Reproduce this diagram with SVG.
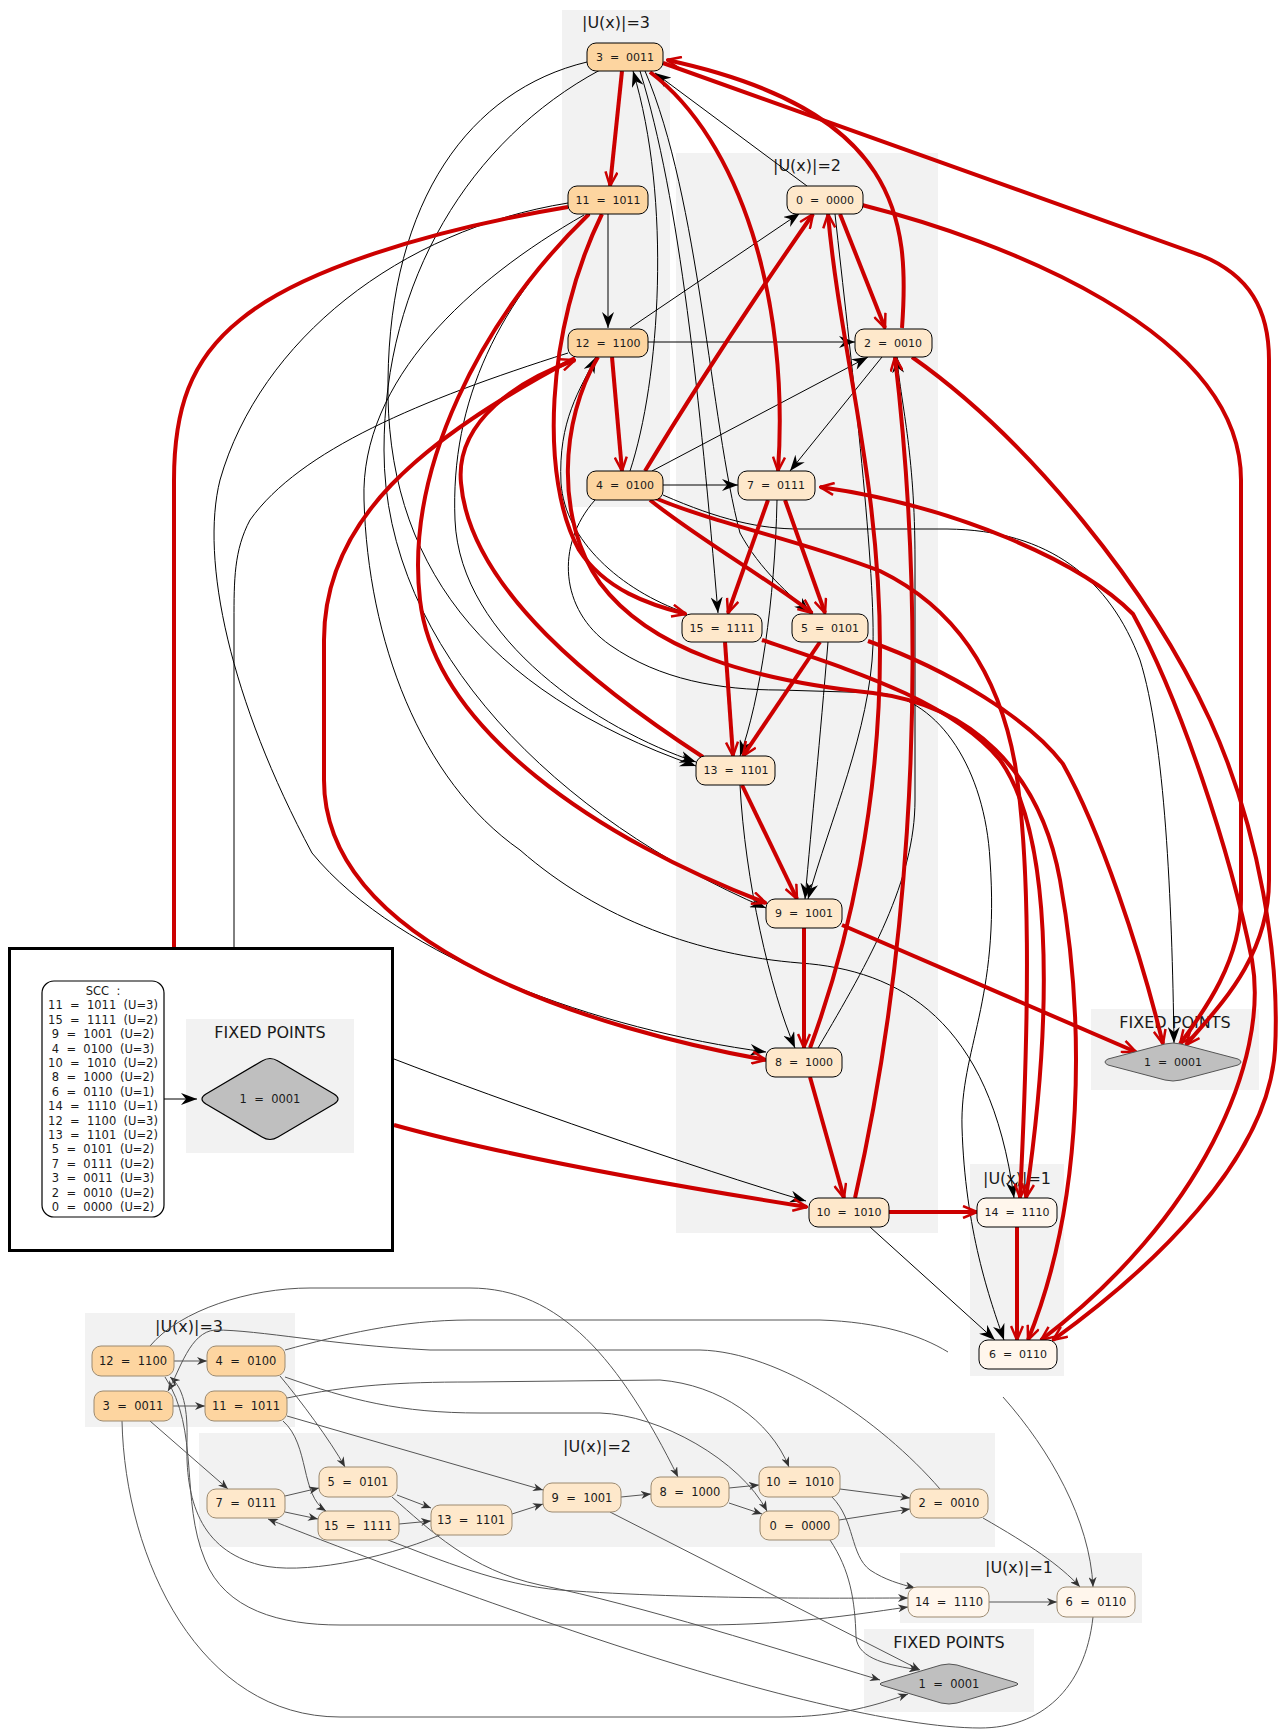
<svg xmlns="http://www.w3.org/2000/svg" width="1283" height="1730" viewBox="0 0 1283 1730">
<style>
text{font-family:"DejaVu Sans","Liberation Sans",sans-serif;fill:#1a1a1a;white-space:pre}
.cl{fill:#f2f2f2}
.cll{font-size:16px;text-anchor:middle}
.tn{font-size:11px;text-anchor:middle}
.bn{font-size:11.5px;text-anchor:middle}
.u3{fill:#fdd5a0;stroke:#000;stroke-width:1}
.u2{fill:#fee8cb;stroke:#000;stroke-width:1}
.u1{fill:#fff6ec;stroke:#000;stroke-width:1}
.b3{fill:#fdd5a0;stroke:#9c8a70;stroke-width:1}
.b2{fill:#fee8cb;stroke:#9c8a70;stroke-width:1}
.b1{fill:#fff6ec;stroke:#9c8a70;stroke-width:1}
.fp{fill:#bfbfbf;stroke:#555;stroke-width:1}
.eb{fill:none;stroke:#000;stroke-width:1;marker-end:url(#ab)}
.en{fill:none;stroke:#000;stroke-width:1}
.er{fill:none;stroke:#cc0000;stroke-width:4;marker-end:url(#ar)}
.eg{fill:none;stroke:#555;stroke-width:1;marker-end:url(#ag)}
.egn{fill:none;stroke:#555;stroke-width:1}
</style>
<defs>
<marker id="ab" viewBox="0 0 16 12" refX="16" refY="6" markerWidth="16" markerHeight="12" markerUnits="userSpaceOnUse" orient="auto"><path d="M0,0 L16,6 L0,12 L5,6 Z" fill="#000"/></marker>
<marker id="ar" viewBox="0 0 16 14" refX="15" refY="7" markerWidth="16" markerHeight="14" markerUnits="userSpaceOnUse" orient="auto"><path d="M1,1 L15,7 L1,13" fill="none" stroke="#cc0000" stroke-width="2.5"/></marker>
<marker id="ars" viewBox="0 0 16 14" refX="15" refY="7" markerWidth="16" markerHeight="14" markerUnits="userSpaceOnUse" orient="auto-start-reverse"><path d="M1,1 L15,7 L1,13" fill="none" stroke="#cc0000" stroke-width="2.5"/></marker>
<marker id="ag" viewBox="0 0 10 8" refX="10" refY="4" markerWidth="10" markerHeight="8" markerUnits="userSpaceOnUse" orient="auto"><path d="M0,0 L10,4 L0,8 L3,4 Z" fill="#333"/></marker>
</defs>
<rect width="1283" height="1730" fill="#fff"/>

<!-- bottom graph clusters -->
<g id="bottom-clusters">
<rect class="cl" x="85" y="1313" width="210" height="114"/>
<text class="cll" x="189" y="1332">|U(x)|=3</text>
<rect class="cl" x="199" y="1433" width="796" height="114"/>
<text class="cll" x="597" y="1452">|U(x)|=2</text>
<rect class="cl" x="900" y="1553" width="242" height="70"/>
<text class="cll" x="1019" y="1573">|U(x)|=1</text>
<rect class="cl" x="864" y="1629" width="170" height="83"/>
<text class="cll" x="949" y="1648">FIXED POINTS</text>
</g>

<g id="bottom-edges">
<path class="eg" d="M174,1361 L207,1361"/>
<path class="eg" d="M173,1406 L205,1406"/>
<path class="eg" d="M150,1421 L228,1489"/>
<path class="eg" d="M280,1376 C300,1400 330,1440 345,1467"/>
<path class="eg" d="M283,1421 C310,1445 300,1495 326,1511"/>
<path class="eg" d="M287,1416 L543,1490"/>
<path class="eg" d="M285,1496 L319,1488"/>
<path class="eg" d="M285,1512 L318,1519"/>
<path class="eg" d="M397,1495 L431,1508"/>
<path class="eg" d="M399,1524 L431,1521"/>
<path class="eg" d="M512,1514 L543,1504"/>
<path class="eg" d="M621,1497 L651,1494"/>
<path class="eg" d="M729,1488 L759,1485"/>
<path class="eg" d="M729,1503 L762,1514"/>
<path class="eg" d="M840,1489 L910,1498"/>
<path class="eg" d="M839,1520 L910,1509"/>
<path class="eg" d="M832,1497 C855,1520 850,1555 870,1570 C885,1580 900,1584 915,1588"/>
<path class="eg" d="M983,1518 C1030,1545 1060,1565 1080,1587"/>
<path class="eg" d="M989,1602 L1057,1602"/>
<path class="eg" d="M610,1512 L920,1670"/>
<path class="eg" d="M830,1540 C850,1570 855,1600 856,1637 C858,1660 890,1665 919,1670"/>
<path class="eg" d="M1093,1617 C1085,1690 1040,1728 980,1728 C900,1728 750,1690 600,1640 C450,1590 320,1540 268,1519"/>
<path class="eg" d="M122,1421 C125,1560 200,1717 340,1717 L780,1717 C840,1717 880,1704 908,1694"/>
<path class="eg" d="M440,1535 C380,1560 300,1575 260,1565 C200,1550 185,1500 187,1440 C188,1400 180,1385 170,1377"/>
<path class="eg" d="M940,1489 C880,1420 780,1352 700,1350 L430,1350 C330,1345 260,1330 215,1330 C190,1332 180,1370 168,1391"/>
<path class="eg" d="M150,1346 C180,1310 250,1288 310,1288 L470,1288 C560,1288 620,1360 678,1477"/>
<path class="egn" d="M285,1350 C340,1335 400,1320 470,1320 L820,1320 C880,1322 920,1335 948,1352"/>
<path class="eg" d="M1003,1397 C1050,1450 1090,1520 1093,1587"/>
<path class="eg" d="M287,1398 C350,1385 400,1382 470,1382 L660,1380 C720,1385 770,1420 789,1467"/>
<path class="eg" d="M285,1377 C350,1400 400,1413 480,1413 L600,1413 C660,1415 740,1460 767,1511"/>
<path class="eg" d="M392,1497 C430,1530 470,1570 540,1585 C640,1605 780,1650 880,1680"/>
<path class="eg" d="M388,1540 C440,1560 500,1585 560,1590 C700,1600 850,1598 908,1598"/>
<path class="eg" d="M165,1377 C200,1430 180,1500 205,1560 C225,1610 280,1625 340,1625 L700,1625 C800,1625 870,1612 908,1607"/>
</g>

<g id="b-n12"><rect class="b3" x="92" y="1346" width="82" height="30" rx="9"/><text class="bn" x="133" y="1365">12  =  1100</text></g>
<g id="b-n4"><rect class="b3" x="207" y="1346" width="78" height="30" rx="9"/><text class="bn" x="246" y="1365">4  =  0100</text></g>
<g id="b-n3"><rect class="b3" x="94" y="1391" width="79" height="30" rx="9"/><text class="bn" x="133" y="1410">3  =  0011</text></g>
<g id="b-n11"><rect class="b3" x="205" y="1391" width="82" height="30" rx="9"/><text class="bn" x="246" y="1410">11  =  1011</text></g>
<g id="b-n7"><rect class="b2" x="207" y="1489" width="78" height="29" rx="9"/><text class="bn" x="246" y="1507">7  =  0111</text></g>
<g id="b-n5"><rect class="b2" x="319" y="1467" width="78" height="30" rx="9"/><text class="bn" x="358" y="1486">5  =  0101</text></g>
<g id="b-n15"><rect class="b2" x="318" y="1511" width="81" height="29" rx="9"/><text class="bn" x="358" y="1530">15  =  1111</text></g>
<g id="b-n13"><rect class="b2" x="431" y="1505" width="81" height="30" rx="9"/><text class="bn" x="471" y="1524">13  =  1101</text></g>
<g id="b-n9"><rect class="b2" x="543" y="1483" width="78" height="29" rx="9"/><text class="bn" x="582" y="1502">9  =  1001</text></g>
<g id="b-n8"><rect class="b2" x="651" y="1477" width="78" height="30" rx="9"/><text class="bn" x="690" y="1496">8  =  1000</text></g>
<g id="b-n10"><rect class="b2" x="759" y="1467" width="81" height="30" rx="9"/><text class="bn" x="800" y="1486">10  =  1010</text></g>
<g id="b-n0"><rect class="b2" x="760" y="1511" width="79" height="29" rx="9"/><text class="bn" x="800" y="1530">0  =  0000</text></g>
<g id="b-n2"><rect class="b2" x="910" y="1489" width="78" height="29" rx="9"/><text class="bn" x="949" y="1507">2  =  0010</text></g>
<g id="b-n14"><rect class="b1" x="908" y="1587" width="81" height="30" rx="9"/><text class="bn" x="949" y="1606">14  =  1110</text></g>
<g id="b-n6"><rect class="b1" x="1057" y="1587" width="78" height="30" rx="9"/><text class="bn" x="1096" y="1606">6  =  0110</text></g>
<g id="b-n1"><path class="fp" d="M884,1682 L941,1665 Q949,1663 957,1665 L1014,1682 Q1022,1684 1014,1686 L957,1703 Q949,1705 941,1703 L884,1686 Q876,1684 884,1682 Z"/><text class="bn" x="949" y="1688">1  =  0001</text></g>

<!-- top graph clusters -->
<g id="top-clusters">
<rect class="cl" x="562" y="10" width="108" height="497"/>
<text class="cll" x="616" y="28">|U(x)|=3</text>
<rect class="cl" x="676" y="153" width="262" height="1080"/>
<text class="cll" x="807" y="171">|U(x)|=2</text>
<rect class="cl" x="1091" y="1009" width="168" height="81"/>
<text class="cll" x="1175" y="1028">FIXED POINTS</text>
<rect class="cl" x="970" y="1164" width="94" height="212"/>
<text class="cll" x="1017" y="1184">|U(x)|=1</text>
</g>

<g id="top-edges">
<!-- black -->
<path class="eb" d="M608,214 L608,328"/>
<path class="eb" d="M648,342 L855,342"/>
<path class="eb" d="M630,328 L800,213"/>
<path class="eb" d="M807,186 L655,73"/>
<path class="eb" d="M663,485 L738,485"/>
<path class="eb" d="M652,471 L868,357"/>
<path class="eb" d="M882,357 L790,471"/>
<path class="eb" d="M630,471 C660,380 672,200 633,71"/>
<path class="eb" d="M640,71 C680,200 700,400 718,613"/>
<path class="eb" d="M645,71 C700,200 710,420 740,533 C760,570 790,595 810,613"/>
<path class="eb" d="M777,500 C775,600 760,700 740,756"/>
<path class="eb" d="M587,62 C470,90 390,200 388,380 C385,560 480,690 696,766"/>
<path class="eb" d="M590,214 C500,300 450,400 455,520 C460,640 600,730 696,762"/>
<path class="eb" d="M568,203 C400,230 260,340 220,480 C200,560 230,700 312,853 C400,960 600,1030 766,1052"/>
<path class="en" d="M568,353 C420,400 300,450 250,520 C234,550 234,580 234,620 L234,947"/>
<path class="eb" d="M686,613 C620,590 565,540 561,483 C558,420 580,390 596,357"/>
<path class="eb" d="M600,70 C470,140 384,280 384,450 C384,650 560,820 766,908"/>
<path class="eb" d="M740,785 C745,880 770,990 795,1048"/>
<path class="eb" d="M818,1048 C870,960 915,880 915,800 L915,560 C915,450 900,400 897,357"/>
<path class="eb" d="M835,214 C850,350 875,560 873,645 C870,730 830,820 808,899"/>
<path class="eb" d="M828,642 C820,740 812,820 805,899"/>
<path class="eb" d="M584,215 C470,280 360,380 364,500 C368,640 420,780 520,850 C600,920 700,955 800,963 C900,970 990,1020 1014,1198"/>
<path class="eb" d="M663,495 C720,520 760,529 800,529 L947,529 C1050,530 1110,580 1140,660 C1165,740 1172,900 1174,1043"/>
<path class="eb" d="M595,500 C555,545 560,610 610,645 C660,680 720,690 780,690 L880,693 C940,700 985,770 990,860 C1000,1000 960,1050 962,1127 C965,1230 990,1300 1004,1340"/>
<path class="eb" d="M870,1227 L995,1340"/>
<path class="eb" d="M394,1059 C500,1100 700,1170 806,1201"/>
<!-- red -->
<path class="er" d="M622,71 L610,186"/>
<path class="er" d="M663,63 L1200,255 C1250,275 1269,310 1269,360 L1269,880 C1269,960 1215,1010 1186,1045"/>
<path class="er" d="M902,328 C910,220 900,110 667,60"/>
<path class="er" d="M650,72 C740,140 790,300 778,471"/>
<path class="er" d="M645,471 C700,380 760,290 813,214"/>
<path class="er" d="M840,214 L885,328"/>
<path class="er" d="M810,1048 C850,940 880,800 880,650 C880,480 840,350 828,214"/>
<path class="er" d="M855,1198 C900,1000 935,700 895,357"/>
<path class="er" d="M912,357 C1030,440 1150,590 1210,720 C1260,830 1280,960 1275,1050 C1268,1160 1150,1270 1053,1340"/>
<path class="er" style="marker-start:url(#ars)" d="M820,487 C950,505 1080,560 1133,614 C1180,700 1230,850 1252,960 C1270,1060 1200,1220 1041,1340"/>
<path class="er" d="M862,205 C1000,240 1241,330 1241,480 L1241,900 C1241,960 1205,1010 1180,1044"/>
<path class="er" d="M842,925 L1136,1052"/>
<path class="er" d="M768,500 L728,613"/>
<path class="er" d="M785,500 L825,613"/>
<path class="er" d="M650,500 C700,540 770,580 812,613"/>
<path class="er" d="M725,642 L733,756"/>
<path class="er" d="M820,642 L743,756"/>
<path class="er" d="M742,785 L797,899"/>
<path class="er" d="M804,928 L804,1048"/>
<path class="er" d="M810,1077 L844,1198"/>
<path class="er" d="M888,1212 L977,1212"/>
<path class="er" d="M1017,1227 L1017,1340"/>
<path class="er" d="M612,357 L622,471"/>
<path class="er" d="M602,214 C545,330 540,480 579,550 C605,590 650,605 686,614"/>
<path class="er" d="M589,214 C480,320 405,470 420,600 C435,730 600,840 766,903"/>
<path class="er" style="marker-end:none" d="M568,207 C430,230 300,270 240,320 C190,360 174,410 174,480 L174,947"/>
<path class="er" d="M575,358 C420,440 324,520 324,640 L324,780 C324,950 600,1030 766,1060"/>
<path class="er" d="M703,757 C600,690 470,590 461,483 C455,420 520,380 575,360"/>
<path class="er" d="M598,357 C560,420 555,520 600,583 C650,650 750,680 873,693 C970,705 1040,770 1060,880 C1085,1020 1085,1200 1028,1340"/>
<path class="er" d="M655,498 C720,525 800,540 880,571 C960,610 1000,680 1015,764 C1030,860 1030,1000 1020,1198"/>
<path class="er" d="M762,640 C850,670 950,700 1000,760 C1050,830 1055,1000 1026,1198"/>
<path class="er" d="M868,641 C950,670 1030,720 1063,764 C1100,830 1140,950 1163,1044"/>
<path class="er" d="M394,1125 C520,1160 700,1190 807,1207"/>
</g>

<g id="t-n3"><rect class="u3" x="587" y="43" width="76" height="28" rx="9"/><text class="tn" x="625" y="61">3  =  0011</text></g>
<g id="t-n11"><rect class="u3" x="568" y="186" width="80" height="28" rx="9"/><text class="tn" x="608" y="204">11  =  1011</text></g>
<g id="t-n12"><rect class="u3" x="568" y="329" width="80" height="28" rx="9"/><text class="tn" x="608" y="347">12  =  1100</text></g>
<g id="t-n4"><rect class="u3" x="587" y="471" width="76" height="29" rx="9"/><text class="tn" x="625" y="489">4  =  0100</text></g>
<g id="t-n0"><rect class="u2" x="787" y="186" width="76" height="28" rx="9"/><text class="tn" x="825" y="204">0  =  0000</text></g>
<g id="t-n2"><rect class="u2" x="855" y="329" width="77" height="28" rx="9"/><text class="tn" x="893" y="347">2  =  0010</text></g>
<g id="t-n7"><rect class="u2" x="738" y="471" width="77" height="29" rx="9"/><text class="tn" x="776" y="489">7  =  0111</text></g>
<g id="t-n15"><rect class="u2" x="682" y="614" width="80" height="28" rx="9"/><text class="tn" x="722" y="632">15  =  1111</text></g>
<g id="t-n5"><rect class="u2" x="792" y="614" width="76" height="28" rx="9"/><text class="tn" x="830" y="632">5  =  0101</text></g>
<g id="t-n13"><rect class="u2" x="696" y="756" width="79" height="29" rx="9"/><text class="tn" x="736" y="774">13  =  1101</text></g>
<g id="t-n9"><rect class="u2" x="766" y="899" width="76" height="29" rx="9"/><text class="tn" x="804" y="917">9  =  1001</text></g>
<g id="t-n8"><rect class="u2" x="766" y="1048" width="76" height="29" rx="9"/><text class="tn" x="804" y="1066">8  =  1000</text></g>
<g id="t-n10"><rect class="u2" x="809" y="1198" width="80" height="29" rx="9"/><text class="tn" x="849" y="1216">10  =  1010</text></g>
<g id="t-n14"><rect class="u1" x="977" y="1198" width="80" height="29" rx="9"/><text class="tn" x="1017" y="1216">14  =  1110</text></g>
<g id="t-n6"><rect class="u1" x="979" y="1340" width="78" height="29" rx="9"/><text class="tn" x="1018" y="1358">6  =  0110</text></g>
<g id="t-n1"><path class="fp" d="M1108,1059 L1165,1044 Q1173,1042 1181,1044 L1238,1059 Q1244,1062 1238,1065 L1181,1080 Q1173,1082 1165,1080 L1108,1065 Q1102,1062 1108,1059 Z"/><text class="tn" x="1173" y="1066">1  =  0001</text></g>

<g id="legend">
<rect x="9.5" y="948.5" width="383" height="302" fill="#fff" stroke="#000" stroke-width="3"/>
<rect class="cl" x="186" y="1019" width="168" height="134"/>
<text class="cll" x="270" y="1038">FIXED POINTS</text>
<g id="legend-scc">
<rect x="42" y="981" width="122" height="236" rx="12" fill="#fff" stroke="#000" stroke-width="1.2"/>
<text class="bn" x="103" y="995">SCC  :<tspan x="103" dy="14.4">11  =  1011  (U=3)</tspan><tspan x="103" dy="14.4">15  =  1111  (U=2)</tspan><tspan x="103" dy="14.4">9  =  1001  (U=2)</tspan><tspan x="103" dy="14.4">4  =  0100  (U=3)</tspan><tspan x="103" dy="14.4">10  =  1010  (U=2)</tspan><tspan x="103" dy="14.4">8  =  1000  (U=2)</tspan><tspan x="103" dy="14.4">6  =  0110  (U=1)</tspan><tspan x="103" dy="14.4">14  =  1110  (U=1)</tspan><tspan x="103" dy="14.4">12  =  1100  (U=3)</tspan><tspan x="103" dy="14.4">13  =  1101  (U=2)</tspan><tspan x="103" dy="14.4">5  =  0101  (U=2)</tspan><tspan x="103" dy="14.4">7  =  0111  (U=2)</tspan><tspan x="103" dy="14.4">3  =  0011  (U=3)</tspan><tspan x="103" dy="14.4">2  =  0010  (U=2)</tspan><tspan x="103" dy="14.4">0  =  0000  (U=2)</tspan></text>
</g>
<g id="legend-fp"><path d="M206,1094 L262,1061 Q270,1056 278,1061 L334,1094 Q342,1099 334,1104 L278,1137 Q270,1142 262,1137 L206,1104 Q198,1099 206,1094 Z" fill="#bfbfbf" stroke="#000" stroke-width="1.2"/><text class="bn" x="270" y="1103">1  =  0001</text></g>
<path class="eb" d="M164,1099 L197,1099"/>
</g>
</svg>
